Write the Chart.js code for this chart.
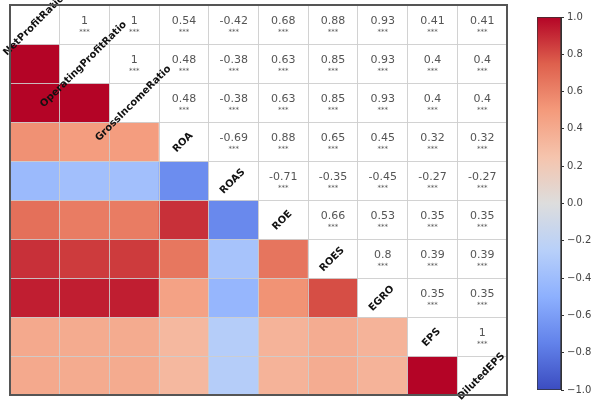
<!DOCTYPE html>
<html>
<head>
<meta charset="utf-8">
<script src="https://cdn.jsdelivr.net/npm/chart.js@4.4.0/dist/chart.umd.min.js"></script>
<style>
  body { margin: 0; background: #fff; }
  #heatWrap { position: absolute; left: 0; top: 0; width: 520px; height: 400px; }
  #barWrap { position: absolute; left: 520px; top: 0; width: 80px; height: 400px; }
</style>
</head>
<body>
<div id="heatWrap"><canvas id="heatCanvas" width="520" height="400"></canvas></div>
<div id="barWrap"><canvas id="barCanvas" width="80" height="400"></canvas></div>
<script>
const labels = ["NetProfitRatio", "OperatingProfitRatio", "GrossIncomeRatio", "ROA", "ROAS",
  "ROE", "ROES", "EGRO", "EPS", "DilutedEPS"];

// correlation matrix (symmetric)
const corr = [
  [1, 1, 1, 0.54, -0.42, 0.68, 0.88, 0.93, 0.41, 0.41],
  [1, 1, 1, 0.48, -0.38, 0.63, 0.85, 0.93, 0.4, 0.4],
  [1, 1, 1, 0.48, -0.38, 0.63, 0.85, 0.93, 0.4, 0.4],
  [0.54, 0.48, 0.48, 1, -0.69, 0.88, 0.65, 0.45, 0.32, 0.32],
  [-0.42, -0.38, -0.38, -0.69, 1, -0.71, -0.35, -0.45, -0.27, -0.27],
  [0.68, 0.63, 0.63, 0.88, -0.71, 1, 0.66, 0.53, 0.35, 0.35],
  [0.88, 0.85, 0.85, 0.65, -0.35, 0.66, 1, 0.8, 0.39, 0.39],
  [0.93, 0.93, 0.93, 0.45, -0.45, 0.53, 0.8, 1, 0.35, 0.35],
  [0.41, 0.4, 0.4, 0.32, -0.27, 0.35, 0.39, 0.35, 1, 1],
  [0.41, 0.4, 0.4, 0.32, -0.27, 0.35, 0.39, 0.35, 1, 1]
];
const stars = "***";
const cbTicks = [-1, -0.8, -0.6, -0.4, -0.2, 0, 0.2, 0.4, 0.6, 0.8, 1];

// coolwarm anchors
const cwStops = [
  [0, 59, 76, 192], [0.125, 98, 130, 234], [0.25, 141, 176, 254], [0.375, 184, 208, 249],
  [0.5, 221, 221, 221], [0.625, 245, 196, 173], [0.75, 244, 154, 123], [0.875, 222, 96, 77],
  [1, 180, 4, 38]
];
function coolwarm(v) {
  const t = Math.min(1, Math.max(0, (v + 1) / 2));
  for (let k = 1; k < cwStops.length; k++) {
    if (t <= cwStops[k][0]) {
      const a = cwStops[k - 1], b = cwStops[k];
      const f = (t - a[0]) / (b[0] - a[0]);
      const c = [1, 2, 3].map(n => Math.round(a[n] + (b[n] - a[n]) * f));
      return `rgb(${c[0]},${c[1]},${c[2]})`;
    }
  }
  return "rgb(180,4,38)";
}

const gridColor = "rgba(205,205,205,0.9)";

const datasets = labels.map((rowName, i) => ({
  label: rowName,
  data: labels.map(() => [i, i + 1]),
  backgroundColor: labels.map((c, j) => (j < i ? coolwarm(corr[i][j]) : "#ffffff")),
  borderWidth: 0,
  grouped: false,
  barPercentage: 1,
  categoryPercentage: 1
}));

// numbers, stars and diagonal names
const textPlugin = {
  id: "cellText",
  afterDraw(chart) {
    const ctx = chart.ctx;
    const xs = chart.scales.x, ys = chart.scales.y;
    const area = chart.chartArea;
    ctx.save();
    ctx.textAlign = "center";
    ctx.textBaseline = "middle";
    for (let i = 0; i < labels.length; i++) {
      for (let j = 0; j < labels.length; j++) {
        const cx = xs.getPixelForValue(j);
        const cy = ys.getPixelForValue(i + 0.5);
        if (j > i) {
          ctx.fillStyle = "#555";
          ctx.font = "11px 'DejaVu Sans'";
          ctx.fillText(String(corr[i][j]), cx, cy - 3);
          ctx.font = "7px 'DejaVu Sans'";
          ctx.fillText(stars, cx, cy + 8);
        } else if (j == i) {
          ctx.save();
          ctx.translate(cx - 1, cy + 1);
          ctx.rotate(-Math.PI / 4);
          ctx.fillStyle = "#111";
          ctx.font = "bold 10px 'DejaVu Sans'";
          ctx.fillText(labels[i], 0, 0);
          ctx.restore();
        }
      }
    }
    // frame
    ctx.strokeStyle = "#555";
    ctx.lineWidth = 2;
    ctx.strokeRect(area.left, area.top, area.right - area.left, area.bottom - area.top);
    ctx.restore();
  }
};

const heatChart = new Chart(document.getElementById("heatCanvas"), {
  type: "bar",
  data: { labels: labels, datasets: datasets },
  options: {
    responsive: false,
    animation: false,
    layout: { padding: { left: 10, top: 5, right: 13, bottom: 5 } },
    plugins: { legend: { display: false }, tooltip: { enabled: false } },
    scales: {
      x: {
        offset: true,
        grid: { offset: true, color: gridColor, drawTicks: false, z: 1 },
        ticks: { display: false },
        border: { display: false }
      },
      y: {
        min: 0,
        max: 10,
        reverse: true,
        grid: { color: gridColor, drawTicks: false, z: 1 },
        ticks: { display: false, stepSize: 1 },
        border: { display: false }
      }
    }
  },
  plugins: [textPlugin]
});

const barChart = new Chart(document.getElementById("barCanvas"), {
  type: "bar",
  data: {
    labels: ["cb"],
    datasets: [{
      data: [[-1, 1]],
      backgroundColor: function (context) {
        const area = context.chart.chartArea;
        if (!area) return null;
        const g = context.chart.ctx.createLinearGradient(0, area.bottom, 0, area.top);
        cwStops.forEach(s => g.addColorStop(s[0], `rgb(${s[1]},${s[2]},${s[3]})`));
        return g;
      },
      borderColor: "#333",
      borderWidth: 1,
      borderSkipped: false,
      barPercentage: 1,
      categoryPercentage: 1
    }]
  },
  options: {
    responsive: false,
    animation: false,
    layout: { padding: { left: 17, top: 17, right: 3, bottom: 10 } },
    plugins: { legend: { display: false }, tooltip: { enabled: false } },
    scales: {
      x: { display: false },
      y: {
        position: "right",
        min: -1,
        max: 1,
        afterBuildTicks: axis => { axis.ticks = cbTicks.map(v => ({ value: v })); },
        afterFit: axis => { axis.width = 36; },
        ticks: {
          color: "#444",
          font: { family: "'DejaVu Sans'", size: 10 },
          padding: 3,
          callback: v => (Math.abs(v) < 1e-9 ? 0 : v).toFixed(1).replace("-", "\u2212")
        },
        grid: { drawOnChartArea: false, drawTicks: true, tickLength: 3, color: "#333" },
        border: { display: true, color: "#333" }
      }
    }
  }
});
</script>
</body>
</html>
